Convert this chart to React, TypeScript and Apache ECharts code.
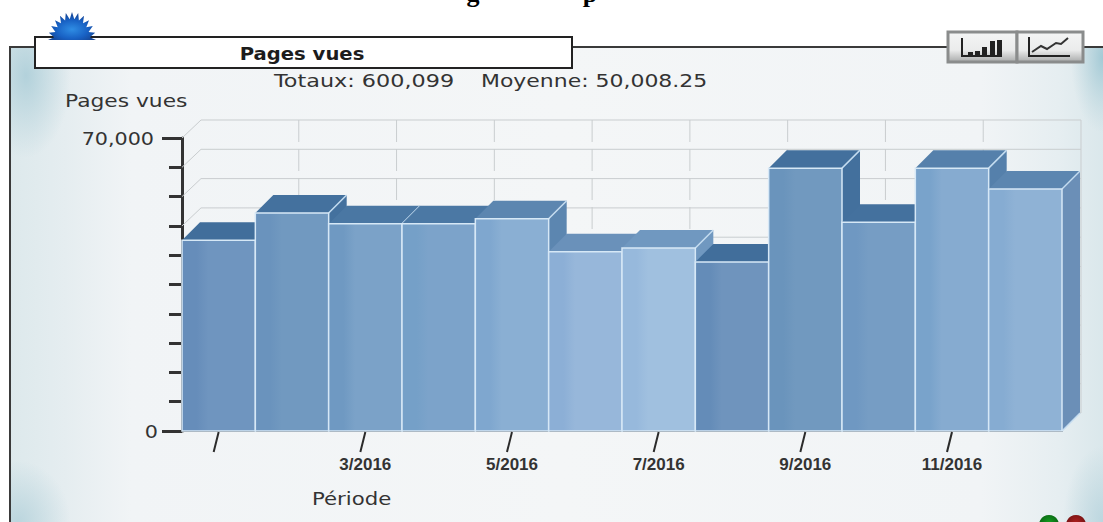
import React, { useEffect, useRef } from "react";
import * as echarts from "echarts";

const categories = ["1/2016","2/2016","3/2016","4/2016","5/2016","6/2016","7/2016","8/2016","9/2016","10/2016","11/2016","12/2016"];
const tickLabels = ["","","3/2016","","5/2016","","7/2016","","9/2016","","11/2016",""];
const pageViews = [45600,52100,49500,49500,50700,42800,43700,40400,62800,49900,62800,57800];
const yLabelValues = [0, 70000];
const frontLeft = ["#668dba","#6a93bd","#6f99c2","#75a0c8","#7fa7cf","#8cafd6","#97b9dc","#648cb8","#6a94bc","#6f98c2","#79a3cb","#86acd2"];
const frontRight = ["#6f95bf","#7199c0","#7ba2c8","#7ca3ca","#8aafd3","#97b7da","#a0c0df","#6f94bd","#7199bf","#769dc4","#86abd0","#8fb2d5"];
const topFaces = ["#416e9b","#44719e","#4a77a3","#4b78a4","#5c86b0","#6a91ba","#7098c0","#416e9b","#43709d","#44719e","#5580ab","#5c86b0"];

const sunPoints: string[] = [];
for (let k = 0; k <= 24; k++) {
  const a = Math.PI * k / 24;
  const outer = k % 2 === 0;
  const rx = outer ? 24 : 18, ry = outer ? 28 : 21;
  sunPoints.push(`${(-Math.cos(a) * rx).toFixed(1)} ${(-Math.sin(a) * ry).toFixed(1)}`);
}
const SUN = "M" + sunPoints.join("L") + "Z";
const DEPTH = 18;
const LINE_COLOR = "#c9cdcf";
const TEXT = "#333333";
const REG = "18px 'DejaVu Sans'";

export default function App() {
  const ref = useRef<HTMLDivElement>(null);
  useEffect(() => {
    echarts.graphic.registerShape("sun", echarts.graphic.extendPath(SUN, {}) as any);
    const chart = echarts.init(ref.current!, null, { renderer: "svg" });
    const box = (x: number, y: number, w: number, h: number, icon: any[]) => [
      { type: "rect", shape: { x, y, width: w, height: h }, style: {
        fill: new echarts.graphic.LinearGradient(0, 0, 0, 1, [
          { offset: 0, color: "#f4f5f5" }, { offset: 0.6, color: "#ebecec" }, { offset: 1, color: "#a9abab" },
        ]), stroke: "#8a8c8c", lineWidth: 3 }, z: 5 },
      ...icon.map((i) => ({ ...i, z: 6 })),
    ];
    const corner = (x: number, y: number, w: number, h: number, cx: number, cy: number, color: string, clear: string) => ({
      type: "rect", z: 0, silent: true, shape: { x, y, width: w, height: h }, style: {
        fill: new echarts.graphic.RadialGradient(cx, cy, 0.75, [{ offset: 0, color }, { offset: 1, color: clear }]) },
    });
    const CLEAR = "rgba(181,210,219,0)";
    chart.setOption({
      animation: false,
      backgroundColor: "#ffffff",
      grid: { left: 182, top: 138, width: 880, height: 293, containLabel: false },
      graphic: [
        { type: "rect", z: 0, shape: { x: 10, y: 47, width: 1103, height: 486 }, style: {
          fill: new echarts.graphic.LinearGradient(0, 0, 1, 0, [
            { offset: 0, color: "#dde9ec" }, { offset: 0.05, color: "#e5edf0" }, { offset: 0.11, color: "#f1f4f6" },
            { offset: 0.5, color: "#f4f6f7" }, { offset: 0.88, color: "#f1f4f6" }, { offset: 0.95, color: "#e6eef1" }, { offset: 1, color: "#d8e6ea" },
          ]), stroke: "#3a3a3a", lineWidth: 2 } },
        corner(11, 48, 60, 110, 0.25, 0.25, "rgba(176,208,218,0.95)", CLEAR),
        corner(11, 440, 70, 82, 0.1, 1, "rgba(181,210,219,0.85)", CLEAR),
        corner(1060, 48, 43, 100, 1, 0.1, "rgba(160,200,212,0.95)", CLEAR),
        corner(1050, 420, 53, 102, 1, 1, "rgba(180,210,220,0.8)", CLEAR),
        { type: "rect", z: 5, shape: { x: 35, y: 37, width: 537, height: 31 }, style: { fill: "#ffffff", stroke: "#222222", lineWidth: 2 } },
        { type: "sun", x: 72, y: 40, z: 6, style: { fill: new echarts.graphic.RadialGradient(0.5, 0.62, 0.6, [
          { offset: 0, color: "#2f8de4" }, { offset: 0.55, color: "#1861c4" }, { offset: 1, color: "#143f8c" },
        ]) } },
        { type: "text", z: 6, x: 302, y: 54, scaleX: 1.09, style: { text: "Pages vues", font: "bold 18px 'DejaVu Sans'", fill: "#1c1c1c", align: "center", verticalAlign: "middle" } },
        { type: "text", z: 6, x: 274, y: 81, scaleX: 1.24, style: { text: "Totaux: 600,099", font: REG, fill: TEXT, verticalAlign: "middle" } },
        { type: "text", z: 6, x: 481, y: 81, scaleX: 1.22, style: { text: "Moyenne: 50,008.25", font: REG, fill: TEXT, verticalAlign: "middle" } },
        { type: "text", z: 6, x: 65, y: 101, scaleX: 1.21, style: { text: "Pages vues", font: REG, fill: TEXT, verticalAlign: "middle" } },
        { type: "text", z: 6, x: 312, y: 499, scaleX: 1.18, style: { text: "Période", font: REG, fill: TEXT, verticalAlign: "middle" } },
        { type: "text", z: 6, x: 473, y: -7, style: { text: "g", font: "bold 26px 'Liberation Serif'", fill: "#000000", align: "center", verticalAlign: "middle" } },
        { type: "text", z: 6, x: 590, y: -7, style: { text: "p", font: "bold 26px 'Liberation Serif'", fill: "#000000", align: "center", verticalAlign: "middle" } },
        ...box(948, 32, 69, 30, [
          { type: "polyline", shape: { points: [[962, 38], [962, 56], [1002, 56]] }, style: { stroke: "#222", fill: "none", lineWidth: 2 } },
          ...[[968, 52], [975, 51], [982, 47], [990, 41], [997, 40]].map(([x, y]) => ({ type: "rect", shape: { x, y, width: 5, height: 56 - y }, style: { fill: "#222" } })),
        ]),
        ...box(1017, 32, 66, 30, [
          { type: "polyline", shape: { points: [[1029, 37], [1029, 56], [1070, 56]] }, style: { stroke: "#222", fill: "none", lineWidth: 2 } },
          { type: "polyline", shape: { points: [[1032, 52], [1041, 46], [1047, 49], [1056, 43], [1061, 44], [1068, 38]] }, style: { stroke: "#333", fill: "none", lineWidth: 2 } },
        ]),
        { type: "circle", z: 7, shape: { cx: 1049, cy: 525, r: 10 }, style: { fill: new echarts.graphic.RadialGradient(0.5, 0.4, 0.6, [{ offset: 0, color: "#12a020" }, { offset: 1, color: "#0a5a12" }]) } },
        { type: "circle", z: 7, shape: { cx: 1076, cy: 525, r: 10 }, style: { fill: new echarts.graphic.RadialGradient(0.5, 0.4, 0.6, [{ offset: 0, color: "#b02020" }, { offset: 1, color: "#6a1010" }]) } },
      ],
      xAxis: {
        type: "category", data: categories, boundaryGap: true,
        axisLine: { lineStyle: { color: "#333333", width: 2 } },
        axisTick: { show: false },
        axisLabel: { interval: 0, margin: 25, formatter: (_: string, i: number) => tickLabels[i],
          fontFamily: "'Liberation Sans'", fontWeight: "bold", fontSize: 17, color: "#333333" },
      },
      yAxis: [
        { type: "value", min: 0, max: 70000, interval: 7000, position: "left", splitLine: { show: false },
          axisLine: { show: true, onZero: false, lineStyle: { color: "#333333", width: 3 } },
          axisTick: { show: true, length: 13, lineStyle: { color: "#333333", width: 3 } }, axisLabel: { show: false } },
        { type: "value", min: 0, max: 70000, interval: 70000, position: "left", splitLine: { show: false },
          axisLine: { show: false },
          axisTick: { show: true, length: 20, lineStyle: { color: "#333333", width: 3 } },
          axisLabel: { show: false } },
      ],
      series: [
        {
          type: "custom", name: "wall", coordinateSystem: "cartesian2d", silent: true, z: 1,
          data: [[0, 70000]], encode: { x: 0, y: 1 },
          clip: false,
          renderItem: (params: any, api: any) => {
            const c = params.coordSys;
            const children: any[] = [];
            const line = (x1: number, y1: number, x2: number, y2: number, dash?: number[]) => ({
              type: "line", shape: { x1, y1, x2, y2 }, style: { stroke: LINE_COLOR, lineWidth: 1, lineDash: dash },
            });
            const left = c.x + DEPTH + 1, right = c.x + c.width + DEPTH + 1, bottom = c.y + c.height - DEPTH;
            for (let v = 70000; v >= 0; v -= 7000) {
              const y = api.coord([0, v])[1] - DEPTH;
              children.push(line(left, y, right, y));
              children.push(line(c.x, y + DEPTH, left, y));
            }
            for (let i = 1; i <= 9; i++) {
              const x = left + (right - left) * i / 9;
              children.push(line(x, c.y - DEPTH, x, bottom, i === 9 ? undefined : [22, 7]));
            }
            return { type: "group", children };
          },
        },
        {
          type: "custom", name: "Pages vues", coordinateSystem: "cartesian2d", z: 2, clip: false,
          data: pageViews.map((v, i) => [i, v]), encode: { x: 0, y: 1 },
          renderItem: (params: any, api: any) => {
            const i = api.value(0), v = api.value(1);
            const [cx, top] = api.coord([i, v]);
            const [, base] = api.coord([i, 0]);
            const w = api.size([1, 0])[0];
            const x0 = cx - w / 2, x1 = cx + w / 2;
            const d = DEPTH;
            const stroke = "#d6e8f6";
            const diag = { stroke: "#c4dcf0", lineWidth: 1.5 };
            return {
              type: "group",
              children: [
                { type: "polygon", shape: { points: [[x1, top], [x1 + d, top - d], [x1 + d, base - d], [x1, base]] },
                  style: { fill: i === 11 ? "#6b8fb7" : topFaces[i] } },
                { type: "polygon", shape: { points: [[x0, top], [x0 + d, top - d], [x1 + d, top - d], [x1, top]] },
                  style: { fill: topFaces[i] } },
                { type: "line", shape: { x1: x1, y1: top, x2: x1 + d, y2: top - d }, style: diag },
                { type: "line", shape: { x1: x1, y1: base, x2: x1 + d, y2: base - d }, style: diag },
                { type: "rect", shape: { x: x0, y: top, width: w, height: base - top },
                  style: { fill: new echarts.graphic.LinearGradient(0, 0, 1, 0, [
                    { offset: 0, color: frontLeft[i] }, { offset: 0.2, color: frontLeft[i] }, { offset: 0.36, color: frontRight[i] }, { offset: 1, color: frontRight[i] },
                  ]), stroke, lineWidth: 1.5 } },
              ],
            };
          },
        },
        {
          type: "custom", name: "ticks", coordinateSystem: "cartesian2d", silent: true, z: 3, clip: false,
          data: tickLabels.map((l, i) => [i, 0, l ? 1 : i === 0 ? 1 : 0]), encode: { x: 0, y: 1 },
          renderItem: (params: any, api: any) => {
            if (!api.value(2)) return { type: "group", children: [] };
            const [x, y] = api.coord([api.value(0), 0]);
            return { type: "line", shape: { x1: x, y1: y + 1, x2: x - 5, y2: y + 21 }, style: { stroke: "#2b2b2b", lineWidth: 2 } };
          },
        },
        {
          type: "custom", name: "yLabels", coordinateSystem: "cartesian2d", silent: true, z: 3, clip: false,
          data: yLabelValues.map((v) => [0, v]), encode: { x: 0, y: 1 },
          renderItem: (params: any, api: any) => {
            const v = api.value(1);
            const [, y] = api.coord([0, v]);
            return { type: "text", x: v === 0 ? 158 : 154, y: y + 1, scaleX: 1.15,
              style: { text: v.toLocaleString("en-US"), font: REG, fill: TEXT, align: "right", verticalAlign: "middle" } };
          },
        },
      ],
    });
    return () => chart.dispose();
  }, []);
  return <div ref={ref} style={{ position: "fixed", left: 0, top: 0, width: 1103, height: 522 }} />;
}
